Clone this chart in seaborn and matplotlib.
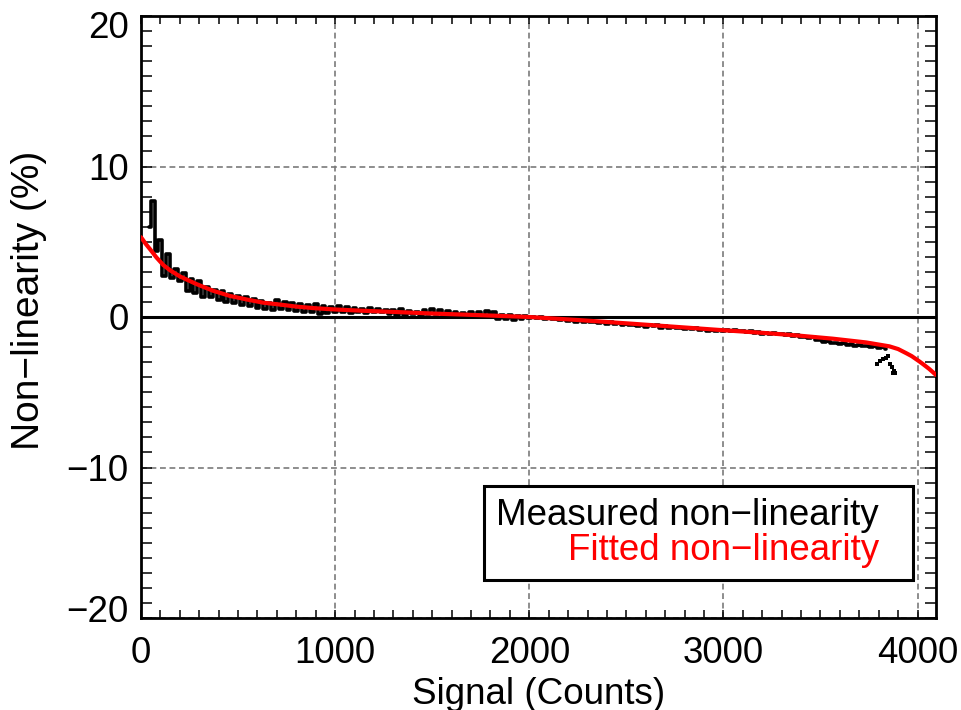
import numpy as np
import pandas as pd
import matplotlib
matplotlib.use("Agg")
import matplotlib.pyplot as plt
import matplotlib.transforms as mtransforms
from matplotlib.lines import Line2D
from matplotlib.ticker import MultipleLocator
import seaborn as sns

# Measured detector non-linearity (%), sampled every 20 counts from 40 to 3840
signal_measured = np.arange(40, 3841, 20)
nonlin_measured = [
    # 40 - 1000
    6.0, 7.7, 4.4, 5.1, 2.7, 4.2, 2.6, 3.2, 2.4, 2.9, 1.7, 2.5, 1.6, 2.4, 1.3, 2.0,
    1.3, 1.8, 1.1, 1.7, 1.0, 1.5, 0.95, 1.4, 0.8, 1.35, 0.75, 1.2, 0.6, 1.05, 0.5,
    0.95, 0.45, 1.1, 0.55, 1.0, 0.45, 0.9, 0.4, 0.85, 0.35, 0.8, 0.3, 0.85, 0.2, 0.7,
    0.25, 0.65, 0.3,
    # 1020 - 2000
    0.7, 0.3, 0.65, 0.25, 0.6, 0.3, 0.55, 0.25, 0.6, 0.3, 0.55, 0.3, 0.45, 0.2, 0.45,
    0.15, 0.55, 0.15, 0.4, 0.2, 0.35, 0.15, 0.45, 0.2, 0.5, 0.2, 0.45, 0.15, 0.4, 0.15,
    0.3, 0.1, 0.25, 0.05, 0.3, 0.0, 0.35, 0.05, 0.4, 0.1, 0.3, -0.1, 0.15, -0.15, 0.1,
    -0.2, 0.05, -0.15, 0.05, -0.05,
    # 2020 - 3000
    0.0, -0.05, 0.0, -0.1, -0.05, -0.15, -0.1, -0.2, -0.15, -0.25, -0.2, -0.3, -0.2,
    -0.3, -0.25, -0.35, -0.3, -0.4, -0.35, -0.45, -0.35, -0.45, -0.4, -0.5, -0.45,
    -0.55, -0.5, -0.6, -0.55, -0.65, -0.55, -0.6, -0.55, -0.7, -0.6, -0.7, -0.65,
    -0.75, -0.7, -0.8, -0.7, -0.8, -0.75, -0.85, -0.8, -0.9, -0.85, -0.95, -0.85, -0.9,
    # 3020 - 3840
    -0.85, -0.95, -0.85, -0.9, -0.95, -1.0, -0.95, -1.05, -1.0, -1.1, -1.05, -1.15,
    -1.05, -1.15, -1.1, -1.2, -1.15, -1.25, -1.2, -1.3, -1.3, -1.4, -1.35, -1.5, -1.5,
    -1.65, -1.6, -1.75, -1.7, -1.8, -1.75, -1.85, -1.8, -1.9, -1.85, -1.95, -1.9,
    -2.0, -1.95, -2.05, -2.0, -2.15,
]

# Scattered measurements near saturation
signal_tail = [3790, 3805, 3820, 3838, 3848, 3860, 3870, 3875, 3880, 3885]
nonlin_tail = [-3.1, -2.95, -2.8, -2.72, -2.6, -3.1, -3.35, -3.7, -3.6, -3.75]

# Fitted non-linearity curve
signal_fit = [0, 25, 50, 80, 115, 150, 200, 250, 287, 370, 458, 550, 630, 720, 801,
              900, 1000, 1150, 1316, 1500, 1750, 2000, 2250, 2533, 2750, 3000, 3220,
              3400, 3563, 3735, 3855, 3900, 3941, 3970, 4009, 4030, 4060, 4095]
nonlin_fit = [5.3, 4.85, 4.45, 3.95, 3.45, 3.1, 2.7, 2.4, 2.18, 1.75, 1.4, 1.15,
              0.95, 0.82, 0.69, 0.58, 0.5, 0.41, 0.33, 0.23, 0.12, 0.0, -0.2, -0.45,
              -0.65, -0.88, -1.07, -1.25, -1.44, -1.69, -1.95, -2.13, -2.4, -2.6,
              -2.95, -3.15, -3.45, -3.85]

x_ticks = [0, 1000, 2000, 3000, 4000]
y_ticks = [-20, -10, 0, 10, 20]
label_measured = "Measured non\u2212linearity"
label_fit = "Fitted non\u2212linearity"

sns.set_style("white")
plt.rcParams["font.family"] = ["Liberation Sans", "DejaVu Sans"]
plt.rcParams["axes.unicode_minus"] = True
for key in ["text.color", "axes.labelcolor", "xtick.color", "ytick.color",
            "xtick.labelcolor", "ytick.labelcolor"]:
    plt.rcParams[key] = "black"

FS = 26.5

fig = plt.figure(figsize=(9.62, 7.10), dpi=100)
ax = fig.add_axes([141 / 962, 92 / 710, 795 / 962, 602 / 710])

df_meas = pd.DataFrame({"signal": signal_measured, "nonlin": nonlin_measured})
df_tail = pd.DataFrame({"signal": signal_tail, "nonlin": nonlin_tail})
df_fit = pd.DataFrame({"signal": signal_fit, "nonlin": nonlin_fit})

ax.axhline(0, color="black", lw=2.2, zorder=2)
sns.lineplot(data=df_meas, x="signal", y="nonlin", color="black", lw=2.6,
             drawstyle="steps-mid", estimator=None, ax=ax, zorder=3)
sns.scatterplot(data=df_tail, x="signal", y="nonlin", color="black", marker="s",
                s=12, linewidth=0, ax=ax, zorder=3)
sns.lineplot(data=df_fit, x="signal", y="nonlin", color="red", lw=3.0,
             estimator=None, ax=ax, zorder=4)

ax.set_xlim(0, 4095)
ax.set_ylim(-20, 20)
ax.set_xticks(x_ticks)
ax.set_yticks(y_ticks)
ax.xaxis.set_minor_locator(MultipleLocator(100))
ax.yaxis.set_minor_locator(MultipleLocator(1))
ax.set_yticklabels([f"{v:d}".replace("-", "\u2212") for v in y_ticks])

ax.grid(True, which="major", color="#7a7a7a", lw=1.2, ls=(0, (3.5, 2.2)), zorder=1)
ax.set_axisbelow(True)

for side in ["left", "right", "top", "bottom"]:
    ax.spines[side].set_visible(True)
    ax.spines[side].set_linewidth(2.0)
    ax.spines[side].set_color("black")

ax.tick_params(axis="x", which="both", direction="in", top=True, bottom=True,
               length=5.8, width=1.1, color="black", labelsize=FS, pad=13)
ax.tick_params(axis="y", which="both", direction="in", left=True, right=True,
               length=7.9, width=1.1, color="black", labelsize=FS, pad=9)

# keep the end labels of the y axis inside the frame
ylabels = ax.get_yticklabels()
ylabels[-1].set_transform(ylabels[-1].get_transform()
                          + mtransforms.ScaledTranslation(0, -9 / 100, fig.dpi_scale_trans))
ylabels[0].set_transform(ylabels[0].get_transform()
                         + mtransforms.ScaledTranslation(0, 9 / 100, fig.dpi_scale_trans))

ax.set_xlabel("Signal (Counts)", fontsize=FS, labelpad=4)
ax.set_ylabel("Non\u2212linearity (%)", fontsize=28)
ax.yaxis.set_label_coords(-0.118, 0.528)

proxies = [Line2D([], [], linestyle="none"), Line2D([], [], linestyle="none")]
leg = ax.legend(proxies, [label_measured, label_fit], loc="lower right",
                bbox_to_anchor=(0.971, 0.063), labelcolor=["black", "red"],
                fontsize=FS, handlelength=0.6, handletextpad=0.0, markerfirst=False,
                borderpad=0.33, labelspacing=0.0, frameon=True, fancybox=False,
                framealpha=1.0, edgecolor="black", borderaxespad=0)
leg.get_frame().set_linewidth(2.2)
for col in leg._legend_handle_box.get_children():
    col.align = "right"

fig.savefig("out.png", dpi=100)
